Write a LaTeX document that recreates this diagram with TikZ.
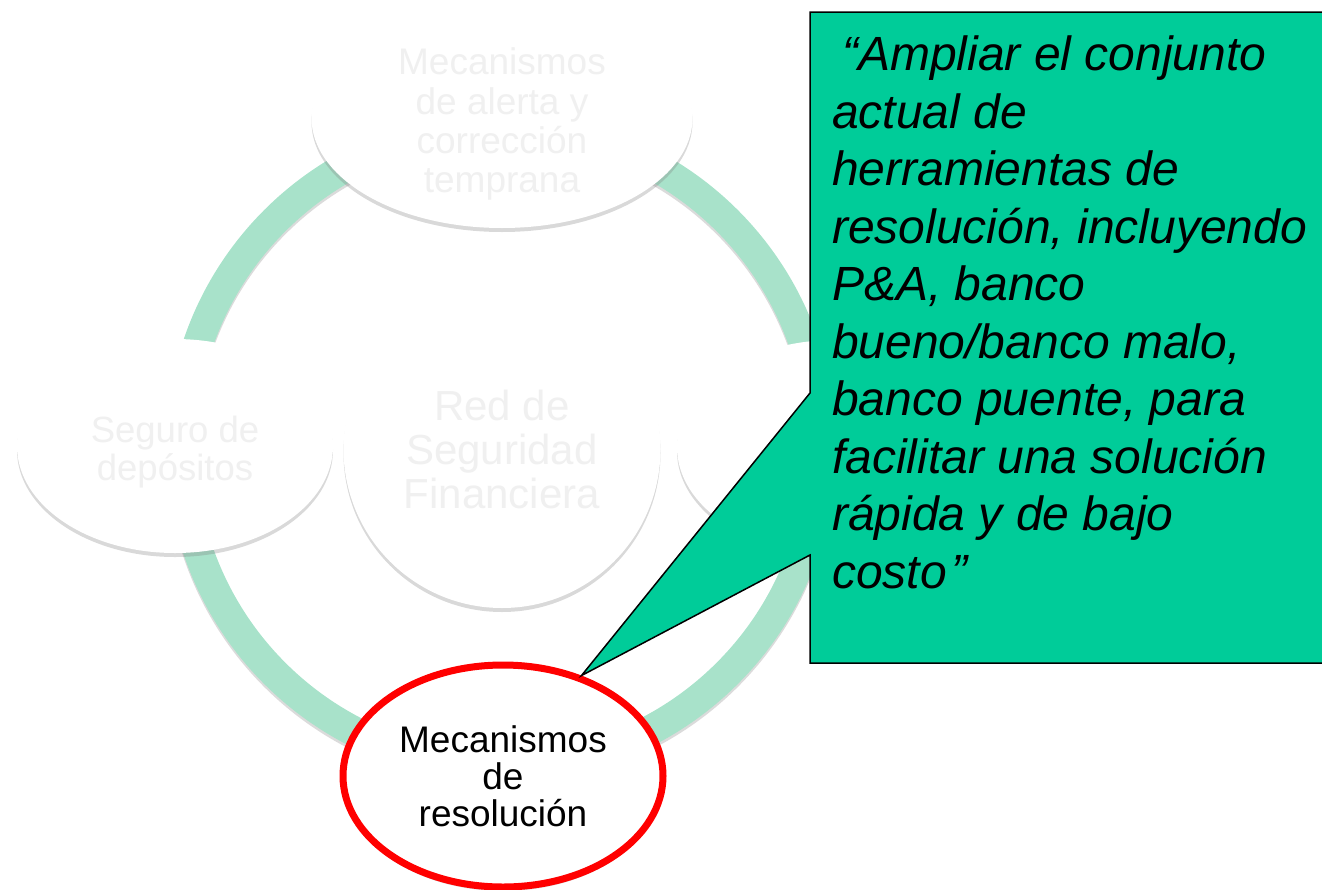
\documentclass[tikz,border=0pt]{standalone}
\usepackage{fontspec}
\setmainfont{Liberation Sans}
\usetikzlibrary{shapes.geometric,shadows}
\definecolor{ringgreen}{RGB}{168,226,202}
\definecolor{notegreen}{RGB}{0,204,153}
\definecolor{faint}{RGB}{240,240,240}

\begin{document}
\begin{tikzpicture}[x=1pt,y=-1pt,
  bubble/.style={ellipse,fill=white,text=faint,align=center,
    drop shadow={shadow xshift=0pt,shadow yshift=-4pt,opacity=.3,fill=black!50}},
  resbubble/.style={bubble,draw=red,line width=7pt,text=black}]
\tikzstyle{every node}+=[inner sep=0pt]
\useasboundingbox (0,0) rectangle (1322,889);

\draw [black!14,line width=30pt] (501,450) circle (320);
\draw [ringgreen,line width=30pt] (501,447) circle (320);

\node [bubble,inner sep=-12pt,minimum width=381pt,minimum height=220pt,
  font=\fontsize{37}{39.3}\selectfont] (alerta) at (502,118)
  {\rule{0pt}{39pt}Mecanismos\\de alerta y\\corrección\\temprana};
\node [bubble,minimum width=316pt,minimum height=214pt,
  font=\fontsize{36.5}{38}\selectfont] (seguro) at (175,446)
  {\rule{0pt}{39pt}Seguro de\\depósitos};
\node [bubble,minimum width=317pt,minimum height=318pt,
  font=\fontsize{42}{44}\selectfont] (red) at (502,449)
  {Red de\\Seguridad\\Financiera};
\node [bubble,minimum width=316pt,minimum height=214pt] (derecha) at (835,447) {};
\node [resbubble,minimum width=320pt,minimum height=222pt,
  font=\fontsize{37}{37}\selectfont] (resolucion) at (503,776)
  {Mecanismos\\de\\resolución};

\coordinate (tip) at (resolucion.52);
\draw [fill=notegreen,line width=1.5pt] (810,12) -- (1324,12) -- (1324,663)
  -- (810,663) -- (810,555) -- (tip) -- (810,393) -- cycle;

\node [anchor=north west,align=left,font=\itshape\fontsize{48}{57.5}\selectfont]
  (cita) at (832,36)
  {\hspace{10pt}“Ampliar el conjunto\\actual de\\herramientas de\\resolución, incluyendo\\P\&A, banco\\bueno/banco malo,\\banco puente, para\\facilitar una solución\\rápida y de bajo\\costo\hspace{5pt}”};
\end{tikzpicture}
\end{document}
